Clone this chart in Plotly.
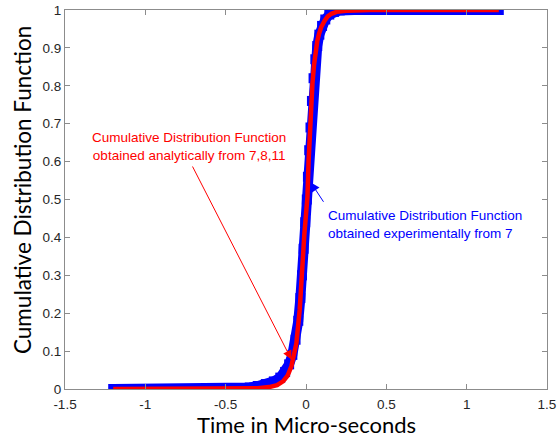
import plotly.graph_objects as go

# Analytical CDF (red)
red_x = [-1.2, -0.6, -0.3, -0.23, -0.18, -0.143, -0.115, -0.091, -0.06, -0.039, -0.029, -0.022,
         -0.01, 0.0, 0.009, 0.016, 0.023, 0.03, 0.04, 0.05, 0.06, 0.07, 0.081, 0.095, 0.116, 0.135,
         0.158, 0.19, 0.25, 0.4, 0.8, 1.2]
red_y = [0.0, 0.0, 0.002, 0.005, 0.01, 0.02, 0.035, 0.06, 0.12, 0.21, 0.30, 0.34,
         0.41, 0.46, 0.507, 0.60, 0.683, 0.74, 0.806, 0.855, 0.893, 0.918, 0.937, 0.955, 0.972, 0.983,
         0.99, 0.995, 0.998, 1.0, 1.0, 1.0]

blue_x = [-1.2, -0.8, -0.5, -0.4, -0.35, -0.3, -0.25, -0.2, -0.16, -0.13, -0.105, -0.085, -0.065,
          -0.048, -0.035, -0.025, -0.015, -0.005, 0.005, 0.012, 0.02, 0.028, 0.037, 0.047, 0.058,
          0.07, 0.083, 0.1, 0.12, 0.145, 0.175, 0.21, 0.3, 0.6, 0.9, 1.2]
blue_y = [0.0, 0.0, 0.001, 0.002, 0.004, 0.008, 0.013, 0.02, 0.03, 0.045, 0.065, 0.09, 0.13,
          0.18, 0.24, 0.30, 0.37, 0.44, 0.50, 0.56, 0.63, 0.69, 0.76, 0.82, 0.87,
          0.905, 0.935, 0.958, 0.975, 0.988, 0.995, 0.999, 1.0, 1.0, 1.0, 1.0]

x_ticks = [-1.5, -1, -0.5, 0, 0.5, 1, 1.5]
x_tick_labels = ["-1.5", "-1", "-0.5", "0", "0.5", "1", "1.5"]
y_ticks = [0, 0.1, 0.2, 0.3, 0.4, 0.5, 0.6, 0.7, 0.8, 0.9, 1]
y_tick_labels = ["0", "0.1", "0.2", "0.3", "0.4", "0.5", "0.6", "0.7", "0.8", "0.9", "1"]

fig = go.Figure()
fig.add_trace(go.Scatter(x=blue_x, y=blue_y, mode="lines+markers",
                         line=dict(color="#0000ff", width=10),
                         marker=dict(symbol="square", size=10, color="#0000ff"),
                         showlegend=False, hoverinfo="skip"))
fig.add_trace(go.Scatter(x=red_x, y=red_y, mode="lines",
                         line=dict(color="#ff0000", width=4.5),
                         showlegend=False, hoverinfo="skip"))

axis_common = dict(showline=True, linecolor="#8c8c8c", linewidth=1, mirror="ticks",
                   ticks="inside", ticklen=5, tickcolor="#8c8c8c", showgrid=False,
                   zeroline=False, automargin=False,
                   tickfont=dict(family="Liberation Sans, Arial", size=13.5, color="#262626"))

fig.update_layout(
    width=558, height=439, autosize=False,
    margin=dict(l=65, r=11, t=9.5, b=49.5),
    paper_bgcolor="white", plot_bgcolor="white",
    xaxis=dict(range=[-1.5, 1.5], tickvals=x_ticks, ticktext=x_tick_labels, ticklabelstandoff=3,
               **axis_common),
    yaxis=dict(range=[0, 1], tickvals=y_ticks, ticktext=y_tick_labels,
               **axis_common),
    annotations=[
        dict(x=0.5, y=-0.094, xref="paper", yref="paper", xanchor="center", yanchor="middle",
             showarrow=False, text="Time in Micro-seconds",
             font=dict(family="Lato", size=22, color="black")),
        dict(x=-0.0892, y=0.525, xref="paper", yref="paper", xanchor="center", yanchor="middle",
             showarrow=False, text="Cumulative Distribution Function", textangle=-90,
             font=dict(family="Lato", size=22.5, color="black")),
        dict(x=-0.091, y=0.078, xref="x", yref="y", ax=-0.711, ay=0.591, axref="x", ayref="y",
             text="", showarrow=True, arrowhead=2, arrowsize=1.8, arrowwidth=1, arrowcolor="#ff0000"),
        dict(x=-0.73, y=0.641, xref="x", yref="y", showarrow=False,
             text="Cumulative Distribution Function<br>obtained analytically from 7,8,11",
             font=dict(family="Liberation Sans, Arial", size=13.5, color="#ff0000"), align="center"),
        dict(x=0.03, y=0.545, xref="x", yref="y", ax=0.115, ay=0.49, axref="x", ayref="y",
             text="", showarrow=True, arrowhead=2, arrowsize=1.8, arrowwidth=1, arrowcolor="#0000ff"),
        dict(x=0.125, y=0.434, xref="x", yref="y", xanchor="left", showarrow=False,
             text="Cumulative Distribution Function<br>obtained experimentally from 7",
             font=dict(family="Liberation Sans, Arial", size=13.5, color="#0000ff"), align="left"),
    ],
)
fig.write_html("out.html", config={"displayModeBar": False},
               post_script="document.body.style.margin='0';")
